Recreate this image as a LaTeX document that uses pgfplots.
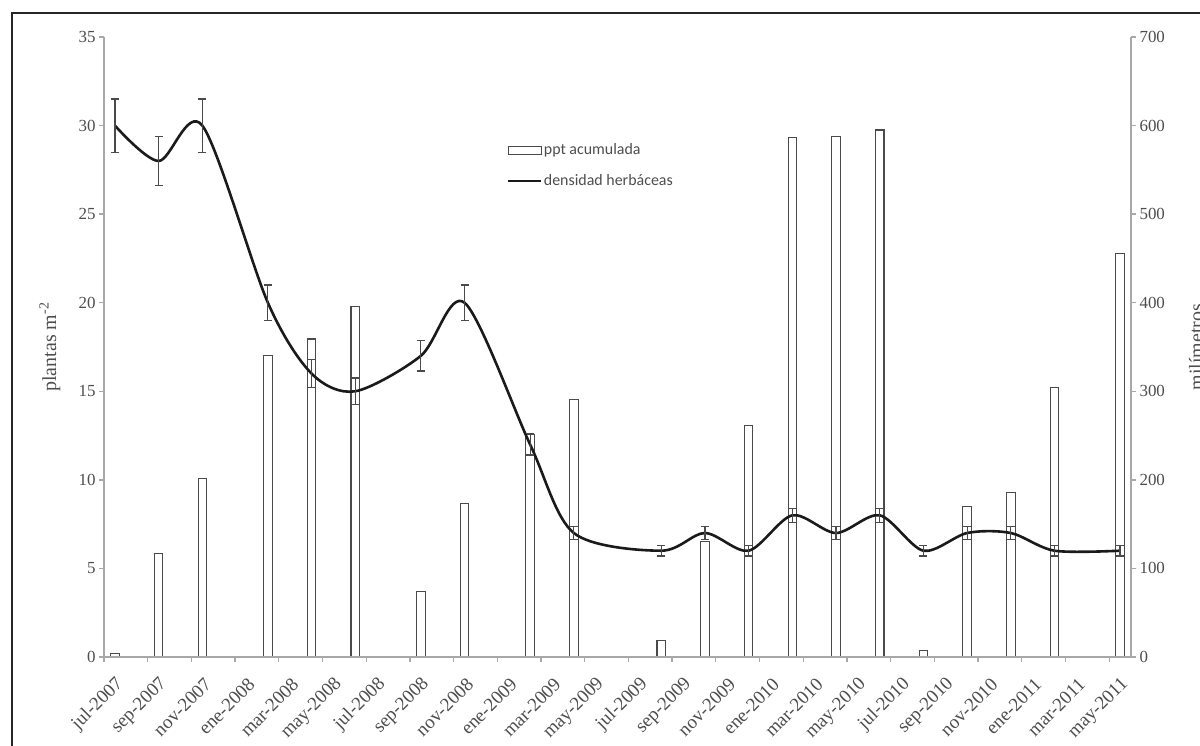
\documentclass[border=0pt]{standalone}
\usepackage{pgfplots}
\pgfplotsset{compat=1.18}
\usepackage{pgfplotstable}
\usepackage{fontspec}
\setmainfont{Liberation Serif}
\newfontfamily\legendfont{Carlito}

\definecolor{axisgray}{HTML}{A8A8A8}
\definecolor{labelgray}{HTML}{4D4D4D}
\definecolor{bargray}{HTML}{4A4A4A}
\definecolor{curveblack}{HTML}{1A1A1A}

% month index: 0 = jul-2007
% accumulated rainfall (mm)
\pgfplotstableread{
m  mm
0  4
2  117
4  202
7  340
9  359
11 396
14 74
16 173
19 251
21 291
25 19
27 130
29 261
31 587
33 588
35 595
37 7
39 170
41 186
43 304
46 456
}\pptdata

% herbaceous plant density (plants per m2) and its error
\pgfplotstableread{
m  dens err
0  30   1.5
2  28   1.4
4  30   1.5
7  20   1.0
9  16   0.8
11 15   0.75
14 17   0.85
16 20   1.0
19 12   0.6
21 7    0.35
25 6    0.3
27 7    0.35
29 6    0.3
31 8    0.4
33 7    0.35
35 8    0.4
37 6    0.3
39 7    0.35
41 7    0.35
43 6    0.3
46 6    0.3
}\densdata

\pgfplotsset{
  common/.style={
    at={(104bp,89bp)}, anchor=south west,
    scale only axis, width=1027bp, height=620bp,
    xmin=-0.5, xmax=46.5,
    axis line style={draw=axisgray, line width=1.3bp},
    tick style={draw=axisgray, line width=1.3bp},
    tick align=outside, major tick length=5bp,
    ticklabel style={font=\fontsize{17}{17}\selectfont, text=labelgray},
    /pgf/number format/assume math mode=true,
    clip=false,
  }
}

\begin{document}
\begin{tikzpicture}
\path[use as bounding box] (0,0) rectangle (1200bp,746bp);
\draw[line width=1.5bp, color=black!85] (12bp,-5bp) -- (12bp,733bp) -- (1205bp,733bp);

% rainfall bars on the right-hand scale
\begin{axis}[common,
  axis x line=none,
  axis y line*=right,
  ymin=0, ymax=700, ytick={0,100,...,700},
  ylabel={milímetros},
  every axis y label/.style={at={(axis description cs:1.0633,0.5)}, rotate=90, anchor=center,
    font=\fontsize{20}{20}\selectfont, text=labelgray},
]
\addplot[ybar, bar width=8.5bp, bar shift=0pt, draw=bargray, fill=white, line width=1.1bp]
  table[x=m, y=mm]{\pptdata};
\end{axis}

% plant density on the left-hand scale
\begin{axis}[common,
  axis x line*=bottom,
  axis y line*=left,
  ymin=0, ymax=35, ytick={0,5,...,35},
  xtick={-0.5,1.5,...,45.5}, xticklabels={},
  extra x ticks={0,2,...,46},
  extra x tick labels={jul-2007,sep-2007,nov-2007,ene-2008,mar-2008,may-2008,
    jul-2008,sep-2008,nov-2008,ene-2009,mar-2009,may-2009,
    jul-2009,sep-2009,nov-2009,ene-2010,mar-2010,may-2010,
    jul-2010,sep-2010,nov-2010,ene-2011,mar-2011,may-2011},
  extra x tick style={major tick length=0pt,
    xticklabel style={xshift=8bp, yshift=-22bp, rotate=45, anchor=east,
      font=\fontsize{19}{19}\selectfont}},
  ylabel={plantas m\textsuperscript{-2}},
  every axis y label/.style={at={(axis description cs:-0.0526,0.5)}, rotate=90, anchor=center,
    font=\fontsize{20}{20}\selectfont, text=labelgray},
  legend style={at={(axis description cs:0.3924,0.8331)}, anchor=north west,
    draw=none, fill=none, inner sep=0pt, row sep=12bp,
    font=\legendfont\fontsize{16}{16}\selectfont, text=labelgray,
    nodes={inner sep=1.5bp, text height=12bp, text depth=4bp}},
  legend cell align=left,
]
\addlegendimage{legend image code/.code={
  \draw[draw=bargray, fill=white, line width=1.2bp] (0bp,-4bp) rectangle (33bp,4bp);}}
\addlegendentry{ppt acumulada}
\addlegendimage{legend image code/.code={
  \draw[curveblack, line width=2.2bp] (0bp,0bp) -- (33bp,0bp);}}
\addlegendentry{densidad herbáceas}

\addplot[forget plot, curveblack, line width=2.6bp, smooth, tension=0.5,
  error bars/.cd, y dir=both, y explicit,
  error bar style={draw=bargray, line width=1.2bp},
  error mark options={rotate=90, mark size=4bp, line width=1.2bp, draw=bargray}]
  table[x=m, y=dens, y error=err]{\densdata};
\end{axis}
\end{tikzpicture}
\end{document}
